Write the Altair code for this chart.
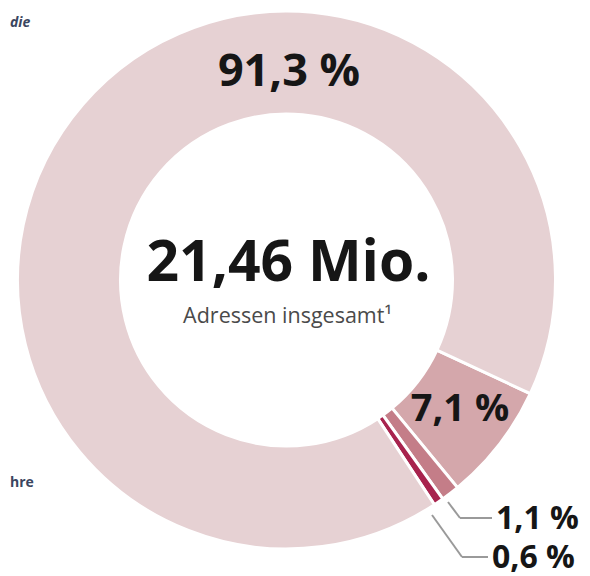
import math
import altair as alt
import pandas as pd

# --- data ---
segments = ["Anteil A", "Anteil B", "Anteil C", "Anteil D"]
shares = [7.1, 1.1, 0.6, 91.3]
colors = ["#d4a7ab", "#c47d88", "#a8234e", "#e6d1d3"]
order = [0, 1, 2, 3]

df = pd.DataFrame({"segment": segments, "share": shares, "order": order})

W, H = 574, 568
CX, CY = 278.5, 272.0
start = math.radians(115)

arcs = alt.Chart(df).mark_arc(
    innerRadius=166, outerRadius=269, stroke="white", strokeWidth=3
).encode(
    theta=alt.Theta("share:Q", stack=True,
                    scale=alt.Scale(range=[start, start + 2 * math.pi])),
    color=alt.Color("segment:N",
                    scale=alt.Scale(domain=segments, range=colors),
                    legend=None),
    order=alt.Order("order:Q"),
    x=alt.value(CX),
    y=alt.value(CY),
)

ann = pd.DataFrame({"d": [0]})
FONT = "Open Sans"


def txt(text, x, y, size, weight="bold", color="#161616", align="center",
        italic=False):
    return alt.Chart(ann).mark_text(
        text=text, font=FONT, fontSize=size, fontWeight=weight,
        fontStyle="italic" if italic else "normal",
        color=color, align=align, baseline="middle"
    ).encode(x=alt.value(x), y=alt.value(y))


def rule(x1, y1, x2, y2):
    return alt.Chart(ann).mark_rule(color="#9a9a9a", strokeWidth=2).encode(
        x=alt.value(x1), y=alt.value(y1), x2=alt.value(x2), y2=alt.value(y2)
    )


layers = [
    arcs,
    txt("21,46 Mio.", CX + 2, 256, 57),
    txt("Adressen insgesamt¹", CX + 1, 309, 21.5, weight="normal", color="#4a4a4a"),
    txt("91,3 %", 281, 64, 45),
    txt("7,1 %", 452, 402, 38),
    rule(440, 494, 452, 510), rule(452, 510, 484, 510),
    txt("1,1 %", 488, 511, 32, align="left"),
    rule(424, 507, 454, 549), rule(454, 549, 480, 549),
    txt("0,6 %", 484, 550, 32, align="left"),
    txt("die", 2, 15, 14, color="#3b4660", align="left", italic=True),
    txt("hre", 2, 475, 14, color="#3b4660", align="left"),
]

chart = alt.layer(*layers).properties(
    width=W, height=H,
    autosize=alt.AutoSizeParams(type="none"),
    padding=0,
    background="white",
).configure_view(stroke=None)

chart.save("out.html", embed_options={"renderer": "svg", "actions": False})
